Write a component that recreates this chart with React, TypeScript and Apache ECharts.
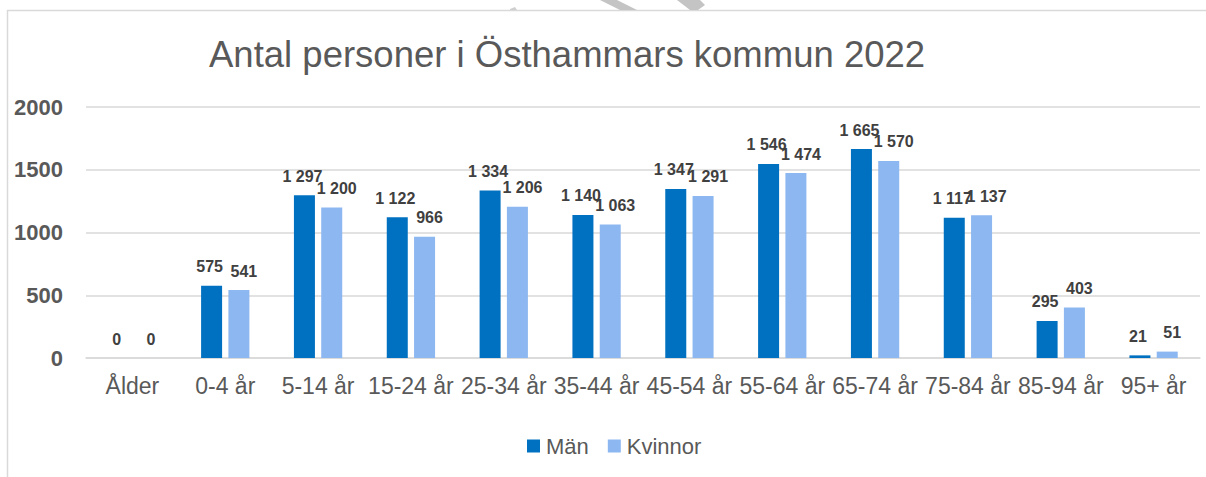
import React, { useEffect, useRef } from "react";
import * as echarts from "echarts";

const categories = ["Ålder", "0-4 år", "5-14 år", "15-24 år", "25-34 år", "35-44 år", "45-54 år", "55-64 år", "65-74 år", "75-84 år", "85-94 år", "95+ år"];
const man = [0, 575, 1297, 1122, 1334, 1140, 1347, 1546, 1665, 1117, 295, 21];
const kvinnor = [0, 541, 1200, 966, 1206, 1063, 1291, 1474, 1570, 1137, 403, 51];
const yTicks = { min: 0, max: 2000, interval: 500 };

const fmt = (v: number) => {
  const s = String(Math.round(v));
  return s.replace(/\B(?=(\d{3})+(?!\d))/g, " ");
};

export default function App() {
  const ref = useRef<HTMLDivElement>(null);
  useEffect(() => {
    document.body.style.margin = "0";
    const chart = echarts.init(ref.current!, null, { renderer: "svg" });
    const labelStyle = (dx: number) => ({
      show: true,
      position: "top" as const,
      distance: 11,
      offset: [dx, 0],
      fontFamily: "Liberation Sans, Arial, sans-serif",
      fontWeight: "bold" as const,
      fontSize: 16,
      color: "#404040",
      formatter: (p: any) => fmt(p.value),
    });
    chart.setOption({
      animation: false,
      backgroundColor: "#ffffff",
      textStyle: { fontFamily: "Liberation Sans, Arial, sans-serif" },
      title: {
        text: "Antal personer i Östhammars kommun 2022",
        left: 204,
        top: 31,
        textStyle: { fontSize: 36.5, fontWeight: "normal", color: "#595959", fontFamily: "Liberation Sans, Arial, sans-serif" },
      },
      grid: { left: 86, right: 6, top: 107, bottom: 119, containLabel: false },
      legend: {
        left: 522,
        top: 430,
        itemWidth: 13,
        itemHeight: 13,
        itemGap: 19,
        icon: "rect",
        textStyle: { fontSize: 22, color: "#595959", padding: [0, 0, 0, 1] },
        data: ["Män", "Kvinnor"],
      },
      xAxis: {
        type: "category",
        data: categories,
        axisLine: { lineStyle: { color: "#d9d9d9", width: 1.5 } },
        axisTick: { show: false },
        axisLabel: { interval: 0, fontSize: 23, color: "#595959", margin: 16 },
      },
      yAxis: {
        type: "value",
        min: yTicks.min,
        max: yTicks.max,
        interval: yTicks.interval,
        axisLine: { show: false },
        axisTick: { show: false },
        splitLine: { lineStyle: { color: "#d9d9d9", width: 1.5 } },
        axisLabel: { fontSize: 22, fontWeight: "bold", color: "#595959", margin: 23, formatter: (v: number) => String(v) },
      },
      series: [
        {
          name: "Män",
          type: "bar",
          data: man,
          barWidth: 21,
          barGap: "30%",
          itemStyle: { color: "#0070C0" },
          label: labelStyle(-2),
        },
        {
          name: "Kvinnor",
          type: "bar",
          data: kvinnor,
          barWidth: 21,
          itemStyle: { color: "#8CB7F0" },
          label: labelStyle(5),
        },
      ],
      graphic: [
        {
          type: "rect",
          shape: { x: 7.5, y: 10.5, width: 1230, height: 500 },
          style: { fill: "none", stroke: "#d9d9d9", lineWidth: 1.5 },
          silent: true,
          z: -10,
        },
        {
          type: "polygon",
          shape: { points: [[600, 0], [617, 0], [637, 10], [620, 10]] },
          style: { fill: "#c4c4c4" },
          silent: true,
        },
        {
          type: "polygon",
          shape: { points: [[677, 0], [700, 0], [705, 5], [698, 10], [690, 10]] },
          style: { fill: "#c4c4c4" },
          silent: true,
        },
        {
          type: "polygon",
          shape: { points: [[510, 9], [515, 7], [517, 10], [510, 10]] },
          style: { fill: "#cfcfcf" },
          silent: true,
        },
      ],
    });
    return () => chart.dispose();
  }, []);
  return <div ref={ref} style={{ width: 1206, height: 477 }} />;
}
